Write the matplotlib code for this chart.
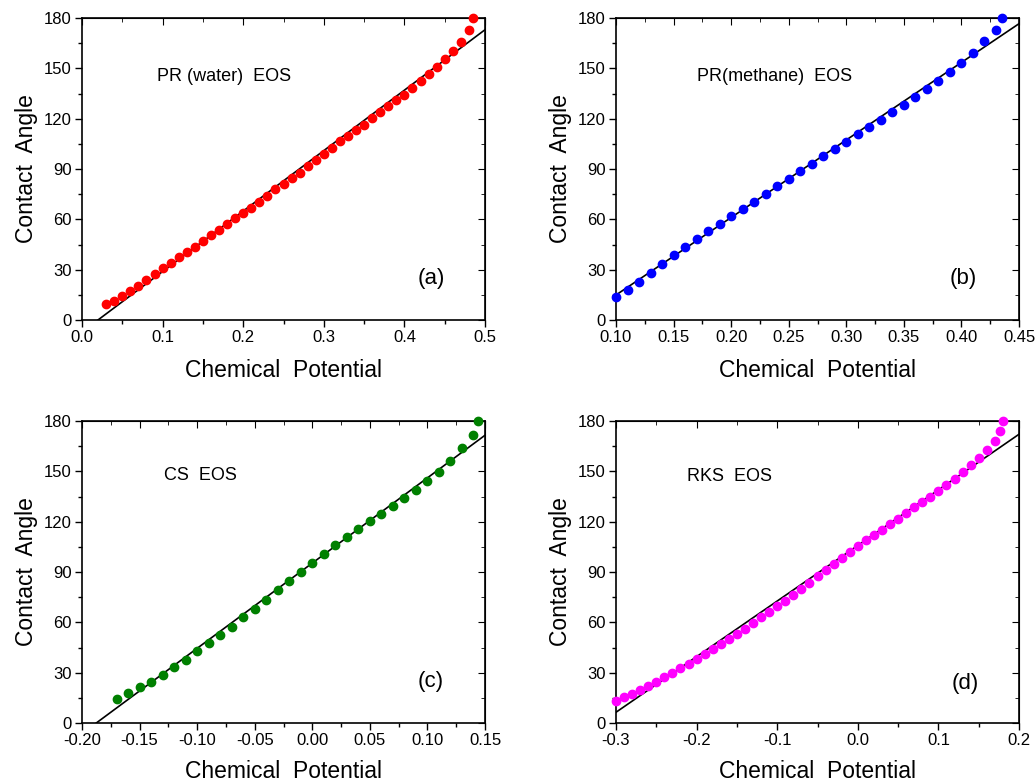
import matplotlib
matplotlib.use("Agg")
import matplotlib.pyplot as plt
from matplotlib.ticker import MultipleLocator, FormatStrFormatter

plt.rcParams['font.family'] = ['Liberation Sans', 'DejaVu Sans']

# ---- data ----
# (a) PR (water) EOS
xa = [0.03, 0.04, 0.05, 0.06, 0.07, 0.08, 0.09, 0.10, 0.11, 0.12, 0.13, 0.14,
      0.15, 0.16, 0.17, 0.18, 0.19, 0.20, 0.21, 0.22, 0.23, 0.24, 0.25, 0.26,
      0.27, 0.28, 0.29, 0.30, 0.31, 0.32, 0.33, 0.34, 0.35, 0.36, 0.37, 0.38,
      0.39, 0.40, 0.41, 0.42, 0.43, 0.44, 0.45, 0.46, 0.47, 0.48, 0.485]
ya = [9.7, 11.3, 14.3, 17.1, 20.5, 23.9, 27.4, 30.8, 34.2, 37.4, 40.6, 43.8,
      47.1, 50.5, 53.9, 57.1, 60.5, 63.8, 67.0, 70.4, 74.0, 77.8, 81.1, 84.5,
      87.9, 91.7, 95.1, 99.0, 102.8, 106.4, 109.6, 113.4, 116.5, 120.1, 123.7,
      127.3, 130.9, 134.4, 138.4, 142.4, 146.4, 150.8, 155.3, 160.3, 165.9,
      172.6, 180.0]
fit_a = [0.0198, 0.5, 0.0, 173.0]   # x0, x1, y0, y1 of the linear fit

# (b) PR (methane) EOS
xb = [0.10, 0.11, 0.12, 0.13, 0.14, 0.15, 0.16, 0.17, 0.18, 0.19, 0.20, 0.21,
      0.22, 0.23, 0.24, 0.25, 0.26, 0.27, 0.28, 0.29, 0.30, 0.31, 0.32, 0.33,
      0.34, 0.35, 0.36, 0.37, 0.38, 0.39, 0.40, 0.41, 0.42, 0.43, 0.435]
yb = [13.9, 17.7, 22.9, 28.2, 33.6, 38.8, 43.6, 48.3, 52.9, 57.5, 61.9, 66.2,
      70.6, 75.2, 79.6, 84.1, 88.7, 93.1, 97.5, 101.8, 106.2, 110.8, 115.2,
      119.5, 123.7, 128.3, 132.9, 137.6, 142.4, 147.6, 153.1, 159.1, 166.1,
      173.0, 180.0]
fit_b = [0.10, 0.45, 14.9, 176.6]

# (c) CS EOS
xc = [-0.17, -0.16, -0.15, -0.14, -0.13, -0.12, -0.11, -0.10, -0.09, -0.08,
      -0.07, -0.06, -0.05, -0.04, -0.03, -0.02, -0.01, 0.00, 0.01, 0.02, 0.03,
      0.04, 0.05, 0.06, 0.07, 0.08, 0.09, 0.10, 0.11, 0.12, 0.13, 0.14, 0.144]
yc = [14.1, 17.7, 21.2, 24.6, 28.8, 33.1, 37.7, 42.9, 47.4, 52.6, 57.4, 62.9,
      68.1, 73.4, 79.0, 84.5, 89.9, 95.5, 101.0, 106.2, 110.9, 115.7, 120.5,
      124.8, 129.6, 134.4, 139.1, 144.3, 149.8, 156.0, 163.7, 171.9, 180.0]
fit_c = [-0.1876, 0.15, 0.0, 171.5]

# (d) RKS EOS
xd = [-0.30, -0.29, -0.28, -0.27, -0.26, -0.25, -0.24, -0.23, -0.22, -0.21,
      -0.20, -0.19, -0.18, -0.17, -0.16, -0.15, -0.14, -0.13, -0.12, -0.11,
      -0.10, -0.09, -0.08, -0.07, -0.06, -0.05, -0.04, -0.03, -0.02, -0.01,
      0.00, 0.01, 0.02, 0.03, 0.04, 0.05, 0.06, 0.07, 0.08, 0.09, 0.10, 0.11,
      0.12, 0.13, 0.14, 0.15, 0.16, 0.17, 0.176, 0.18]
yd = [13.3, 15.3, 17.5, 19.6, 22.0, 24.6, 27.2, 29.8, 32.5, 35.3, 38.3, 41.1,
      43.9, 47.0, 50.0, 53.0, 56.2, 59.5, 62.9, 66.3, 69.5, 72.8, 76.4, 80.0,
      83.7, 87.5, 91.1, 94.9, 98.6, 101.8, 105.4, 108.8, 111.9, 115.3, 118.7,
      121.8, 125.2, 128.6, 131.6, 134.9, 138.3, 142.0, 145.5, 149.4, 154.0,
      158.2, 162.9, 168.1, 173.8, 180.0]
fit_d = [-0.30, 0.20, 6.4, 172.1]

labels = ["PR (water)  EOS", "PR(methane)  EOS", "CS  EOS", "RKS  EOS"]
tags = ["(a)", "(b)", "(c)", "(d)"]

fig = plt.figure(figsize=(10.35, 7.84), dpi=100)

# panel geometry in pixels: left, top, right, bottom
W, H = 1035.0, 784.0
boxes = [(82, 18, 485, 320), (616, 18, 1019, 320),
         (82, 421, 485, 723), (616, 421, 1019, 723)]
# where the EOS name and the panel tag sit (axes fraction)
name_pos = [(0.187, 0.805), (0.20, 0.805), (0.203, 0.821), (0.176, 0.815)]
tag_pos = [(0.834, 0.136), (0.829, 0.136), (0.834, 0.136), (0.834, 0.132)]

panels = [
    (xa, ya, fit_a, 'red', (0.0, 0.5), 0.1, 0.05, '%.1f'),
    (xb, yb, fit_b, 'blue', (0.10, 0.45), 0.05, 0.025, '%.2f'),
    (xc, yc, fit_c, 'green', (-0.20, 0.15), 0.05, 0.025, '%.2f'),
    (xd, yd, fit_d, 'magenta', (-0.3, 0.2), 0.1, 0.05, '%.1f'),
]

def set_ticks(axis, major, minor, direction):
    axis.set_major_locator(MultipleLocator(major))
    axis.set_minor_locator(MultipleLocator(minor))

for i, (x, y, fit, col, xlim, major, minor, fmt) in enumerate(panels):
    l, t, r, b = boxes[i]
    ax = fig.add_axes([l / W, 1 - b / H, (r - l) / W, (b - t) / H])
    ax.plot([fit[0], fit[1]], [fit[2], fit[3]], color='black', lw=1.2, zorder=2)
    ax.plot(x, y, 'o', color=col, ms=6, mec=col, zorder=3, clip_on=False)
    ax.set_xlim(*xlim)
    ax.set_ylim(0, 180)
    set_ticks(ax.xaxis, major, minor, 'out')
    ax.xaxis.set_major_formatter(FormatStrFormatter(fmt))
    set_ticks(ax.yaxis, 30, 15, 'out')
    ax.tick_params(which='both', direction='out', top=False, right=False,
                   labelsize=12, width=1, pad=2.5)
    ax.tick_params(which='major', length=5)
    ax.tick_params(which='minor', length=3)
    # mirrored ticks on top and right point inward
    sec = ax.secondary_xaxis('top')
    set_ticks(sec.xaxis, major, minor, 'in')
    sec.tick_params(which='both', direction='in', labeltop=False)
    sec.tick_params(which='major', length=5)
    sec.tick_params(which='minor', length=3)
    sec2 = ax.secondary_yaxis('right')
    set_ticks(sec2.yaxis, 30, 15, 'in')
    sec2.tick_params(which='both', direction='in', labelright=False)
    sec2.tick_params(which='major', length=5)
    sec2.tick_params(which='minor', length=3)
    for s in ax.spines.values():
        s.set_linewidth(1.2)

    ax.set_xlabel("Chemical  Potential", fontsize=16.5,
                  labelpad=10 if i < 2 else 8)
    ax.set_ylabel("Contact  Angle", fontsize=16.5, labelpad=4)
    ax.text(name_pos[i][0], name_pos[i][1], labels[i], transform=ax.transAxes,
            fontsize=13, va='center')
    ax.text(tag_pos[i][0], tag_pos[i][1], tags[i], transform=ax.transAxes,
            fontsize=16, va='center')

fig.savefig("out.png", dpi=100)
